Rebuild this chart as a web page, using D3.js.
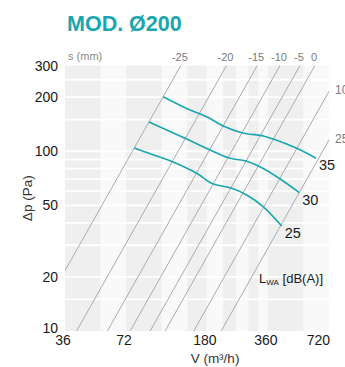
<!DOCTYPE html>
<html>
<head>
<meta charset="utf-8">
<script src="https://cdn.jsdelivr.net/npm/d3@7"></script>
<style>
  html, body { margin: 0; padding: 0; background: #fff; }
  svg text { font-family: "Liberation Sans", Arial, sans-serif; }
</style>
</head>
<body>
<div id="chart"></div>
<script>
//============================================================
// Data
//------------------------------------------------------------

var xTicks = [36, 72, 180, 360, 720];
var yTicks = [10, 20, 50, 100, 200, 300];
var yGrid = [15, 20, 30, 40, 50, 60, 70, 80, 90, 100, 150, 200, 250];
// band edges of the shaded columns (m3/h)
var xBands = [36, 54, 72, 108, 144, 180, 216, 252, 288, 324, 360, 540, 720];

// damper position s (mm) and the flow each system line reaches at 300 Pa
var damperPos = [-25, -20, -15, -10, -5, 0, 10, 25];
var damperFlow = [134, 225, 319, 413, 518, 614, 850, 1160];

// constant sound power curves, [V, dp]
var lwaLevels = [35, 30, 25];
var lwa35 = [[109.8, 201], [143.2, 173], [179.8, 155.7], [217, 138.2], [267.5, 126.8],
             [341.7, 121.6], [382.8, 117], [499.4, 103.8], [621.5, 91.4]];
var lwa30 = [[93.4, 145.5], [140.5, 118], [186.6, 101.6], [225.6, 92.6], [247.8, 90.2],
             [277.6, 88.6], [329, 82], [421, 69.2], [514, 58.8]];
var lwa25 = [[79, 104.6], [83.9, 101.6], [121.9, 87.5], [160.5, 75.4], [186.6, 67],
             [201.3, 64.9], [238.7, 62.2], [283, 57.1], [341.7, 49.1], [421, 38.4]];

//============================================================
// Layout
//------------------------------------------------------------

var width = 345, height = 367;
var margin = {top: 65.5, right: 16, bottom: 36, left: 65};
var innerW = width - margin.left - margin.right,
    innerH = height - margin.top - margin.bottom;

var teal = '#19a6b1';

var x = d3.scaleLog().domain([36, 720]).range([0, innerW]);
var y = d3.scaleLog().domain([10, 300]).range([innerH, 0]);

var svg = d3.select('#chart').append('svg')
    .attr('width', width)
    .attr('height', height);

svg.append('text')
    .attr('x', 67)
    .attr('y', 30.5)
    .attr('font-size', 21.5)
    .attr('font-weight', 'bold')
    .attr('fill', teal)
    .text('MOD. Ø200');

var g = svg.append('g')
    .attr('transform', 'translate(' + margin.left + ',' + margin.top + ')');

svg.append('defs').append('clipPath').attr('id', 'plotClip')
    .append('rect').attr('width', innerW).attr('height', innerH);

// shaded columns
g.append('g').selectAll('rect')
    .data(d3.pairs(xBands))
    .enter().append('rect')
    .attr('x', function(d) { return x(d[0]); })
    .attr('width', function(d) { return x(d[1]) - x(d[0]); })
    .attr('y', 0)
    .attr('height', innerH)
    .attr('fill', function(d, i) { return i % 2 ? '#f9f9f9' : '#efefef'; });

// horizontal grid
g.append('g').selectAll('line')
    .data(yGrid)
    .enter().append('line')
    .attr('x1', 0).attr('x2', innerW)
    .attr('y1', function(d) { return y(d); })
    .attr('y2', function(d) { return y(d); })
    .attr('stroke', '#fff')
    .attr('stroke-width', 1.8);

// system lines, dp ~ V^2
var sysLine = d3.line()
    .x(function(d) { return x(d[0]); })
    .y(function(d) { return y(d[1]); });

g.append('g').attr('clip-path', 'url(#plotClip)')
    .selectAll('path')
    .data(damperFlow)
    .enter().append('path')
    .attr('d', function(v) { return sysLine([[v / Math.sqrt(30), 10], [v, 300]]); })
    .attr('fill', 'none')
    .attr('stroke', '#ababab')
    .attr('stroke-width', 1);

// s labels: top edge for closed positions, right edge for open ones
var sLabels = g.append('g').attr('fill', '#7a7a7a').attr('font-size', 11);
sLabels.append('text')
    .attr('x', 3).attr('y', -6)
    .attr('fill', '#8a8a8a')
    .text('s (mm)');

damperPos.forEach(function(s, i) {
    var v = damperFlow[i];
    if (v <= 720) {
        sLabels.append('text')
            .attr('x', x(v) - 1)
            .attr('y', -5)
            .attr('text-anchor', 'middle')
            .text(s);
    } else {
        var dp = 300 * Math.pow(720 / v, 2);
        sLabels.append('text')
            .attr('x', innerW + 6)
            .attr('y', y(dp) + 3)
            .attr('font-size', 12)
            .text(s);
    }
});

// LWA curves
var curve = d3.line()
    .x(function(d) { return x(d[0]); })
    .y(function(d) { return y(d[1]); })
    .curve(d3.curveCatmullRom.alpha(0.5));

[lwa35, lwa30, lwa25].forEach(function(pts, i) {
    g.append('path')
        .datum(pts)
        .attr('d', curve)
        .attr('fill', 'none')
        .attr('stroke', teal)
        .attr('stroke-width', 1.6);

    var end = pts[pts.length - 1];
    g.append('text')
        .attr('x', x(end[0]) + 3)
        .attr('y', y(end[1]) + 12)
        .attr('font-size', 14.5)
        .attr('fill', '#1a1a1a')
        .text(lwaLevels[i]);
});

// axes labels
var yLab = g.append('g').attr('font-size', 14).attr('fill', '#1a1a1a');
yLab.selectAll('text')
    .data(yTicks)
    .enter().append('text')
    .attr('x', -7)
    .attr('y', function(d) { return Math.min(y(d), innerH - 3) + 5; })
    .attr('text-anchor', 'end')
    .text(function(d) { return d; });

var xLab = g.append('g').attr('font-size', 14).attr('fill', '#1a1a1a');
xLab.selectAll('text')
    .data(xTicks)
    .enter().append('text')
    .attr('x', function(d, i) { return i === xTicks.length - 1 ? innerW + 1 : x(d) - 2; })
    .attr('y', innerH + 14)
    .attr('text-anchor', function(d, i) { return i === xTicks.length - 1 ? 'end' : 'middle'; })
    .text(function(d) { return d; });

g.append('text')
    .attr('transform', 'translate(' + (-33) + ',' + (innerH / 2) + ') rotate(-90)')
    .attr('text-anchor', 'middle')
    .attr('font-size', 13.5)
    .attr('fill', '#333')
    .text('Δp (Pa)');

g.append('text')
    .attr('x', 150)
    .attr('y', innerH + 32)
    .attr('text-anchor', 'middle')
    .attr('font-size', 13.5)
    .attr('fill', '#333')
    .text('V (m³/h)');

var lwa = g.append('text')
    .attr('x', innerW - 6)
    .attr('y', y(18.6))
    .attr('text-anchor', 'end')
    .attr('font-size', 13)
    .attr('fill', '#1a1a1a');
lwa.append('tspan').text('L');
lwa.append('tspan').attr('font-size', 8).attr('dy', 2).text('WA');
lwa.append('tspan').attr('dy', -2).text(' [dB(A)]');
</script>
</body>
</html>
